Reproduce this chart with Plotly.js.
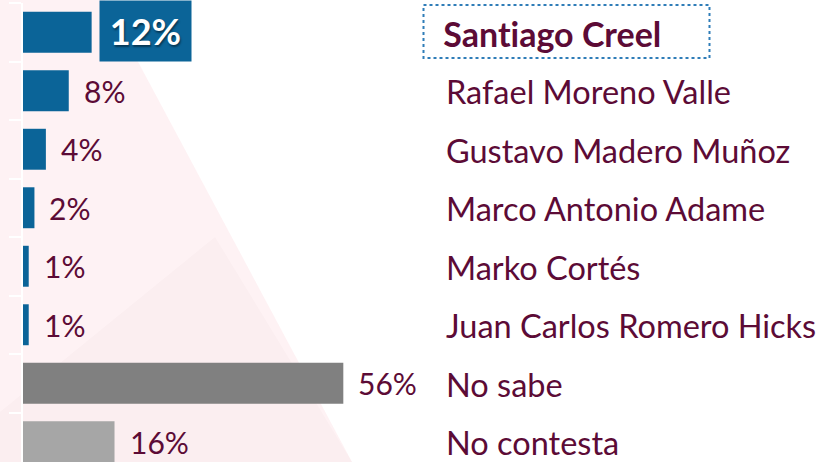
<!DOCTYPE html>
<html>
<head>
<meta charset="utf-8">
<script src="https://cdn.plot.ly/plotly-3.0.1.min.js"></script>
<style>html,body{margin:0;padding:0;background:#fff;}#chart{width:817px;height:462px;}#chart text{font-variant-ligatures:none;font-feature-settings:"liga" 0;}</style>
</head>
<body>
<div id="chart"></div>
<script>
// ---- data ----
const categories = ["Santiago Creel", "Rafael Moreno Valle", "Gustavo Madero Muñoz", "Marco Antonio Adame",
  "Marko Cortés", "Juan Carlos Romero Hicks", "No sabe", "No contesta"];
const values = [12, 8, 4, 2, 1, 1, 56, 16];
const valueLabels = ["12%", "8%", "4%", "2%", "1%", "1%", "56%", "16%"];
const barColors = ["#0B6498", "#0B6498", "#0B6498", "#0B6498", "#0B6498", "#0B6498", "#808080", "#A6A6A6"];
const highlightIndex = 0;

// ---- geometry helpers (pixel -> paper) ----
const W = 817, H = 462;
const M = {l: 23, r: 379, t: 3, b: 0};
const plotW = W - M.l - M.r, plotH = H - M.t - M.b;
const bandPx = 58.5;
const yRange = [-0.5 + plotH / bandPx, -0.5];
const xRange = [0, plotW / 5.72];
const px = x => (x - M.l) / plotW;
const py = y => 1 - (y - M.t) / plotH;

const textColor = "#5C0B36";
const idx = categories.map((c, i) => i);

const trace = {
  type: "bar", orientation: "h",
  y: categories, x: values,
  marker: {color: barColors, line: {width: 0}},
  hoverinfo: "none", textposition: "none"
};

const valueAnnotations = values.map((v, i) => {
  if (i === highlightIndex) {
    return {
      x: v, y: categories[i], xref: "x", yref: "y",
      xanchor: "left", yanchor: "middle", xshift: 7, yshift: 1,
      text: "<b>" + valueLabels[i] + "</b>", showarrow: false,
      bgcolor: "#0B6498", borderpad: 0, width: 91, height: 60, align: "center", valign: "middle",
      font: {family: "Lato", size: 36, color: "#ffffff", shadow: "1px 2px 2px rgba(0,0,0,0.45)"}
    };
  }
  return {
    x: v, y: categories[i], xref: "x", yref: "y",
    xanchor: "left", yanchor: "middle", xshift: 13,
    text: valueLabels[i], showarrow: false,
    font: {family: "Lato", size: 30, color: textColor}
  };
});

const categoryAnnotations = categories.map((c, i) => ({
  x: px(i === highlightIndex ? 441 : 444), xref: "paper", y: c, yref: "y",
  xanchor: "left", yanchor: "middle", yshift: -1,
  text: i === highlightIndex ? "<b>" + c + "</b>" : c, showarrow: false,
  font: {family: "Lato", size: i === highlightIndex ? 34 : 32.5, color: textColor}
}));

const shapes = [
  {type: "path", xref: "paper", yref: "paper", layer: "below", line: {width: 0},
   fillcolor: "rgba(235,60,95,0.065)",
   path: `M ${px(0)} ${py(0)} L ${px(105)} ${py(0)} L ${px(352)} ${py(462)} L ${px(0)} ${py(462)} Z`},
  {type: "path", xref: "paper", yref: "paper", layer: "below", line: {width: 0},
   fillcolor: "rgba(90,70,75,0.02)",
   path: `M ${px(215)} ${py(237)} L ${px(352)} ${py(462)} L ${px(0)} ${py(462)} L ${px(0)} ${py(412)} Z`},
  {type: "rect", xref: "paper", yref: "paper", layer: "above",
   x0: px(423.5), x1: px(709.5), y0: py(5), y1: py(58),
   line: {color: "#2F7DB8", width: 2, dash: "dot"}, fillcolor: "rgba(0,0,0,0)"}
];

const layout = {
  width: W, height: H,
  margin: M,
  paper_bgcolor: "#ffffff", plot_bgcolor: "rgba(0,0,0,0)",
  showlegend: false, bargap: 0.3,
  xaxis: {range: xRange, showgrid: false, zeroline: false, showticklabels: false, ticks: "", showline: false, fixedrange: true},
  yaxis: {type: "category", range: yRange, tickson: "boundaries", ticks: "outside", ticklen: 12, tickwidth: 2,
    tickcolor: "#ffffff", showline: true, linecolor: "#ffffff", linewidth: 2, showgrid: false,
    showticklabels: false, fixedrange: true},
  yaxis2: {type: "linear", overlaying: "y", side: "left", anchor: "x", range: yRange, tickmode: "array",
    tickvals: idx, ticks: "outside", ticklen: 9, tickwidth: 2, tickcolor: "#ffffff",
    showticklabels: false, showgrid: false, zeroline: false, showline: false, fixedrange: true},
  annotations: valueAnnotations.concat(categoryAnnotations),
  shapes: shapes
};

Plotly.newPlot("chart", [trace], layout, {displayModeBar: false, staticPlot: true});
</script>
</body>
</html>
